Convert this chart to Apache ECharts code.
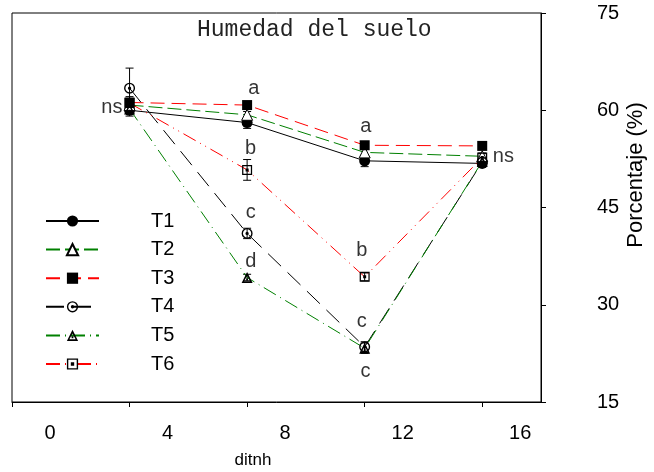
<!DOCTYPE html>
<html>
<head>
<meta charset="utf-8">
<script src="https://cdn.jsdelivr.net/npm/echarts@6/dist/echarts.min.js"></script>
<style>
html,body{margin:0;padding:0;background:#fff}
#chart{width:654px;height:472px}
</style>
</head>
<body>
<div id="chart"></div>
<script>
// days after treatment
const days = [4, 8, 12, 16]
const names = ['T1', 'T2', 'T3', 'T4', 'T5', 'T6']

// soil moisture (%)
const t1 = [60.0, 58.1, 52.2, 51.8]
const t2 = [60.8, 59.3, 53.5, 52.9]
const t3 = [61.2, 60.8, 54.6, 54.5]
const t4 = [63.4, 41.0, 23.5, 52.0]
const t5 = [60.2, 34.2, 23.3, 52.1]
const t6 = [61.1, 50.8, 34.3, 52.7]

// standard errors
const e1 = [0.9, 0.9, 0.9, 0.6]
const e2 = [0.5, 0.5, 0.5, 0.5]
const e3 = [0.5, 0.4, 0.4, 0.4]
const e4 = [3.1, 0.8, 0.8, 0.5]
const e5 = [0.6, 0.5, 0.8, 0.5]
const e6 = [1.0, 1.6, 0.6, 0.6]

// significance letters [x, y, text]
const letters = [
  [3.40, 60.5, 'ns'], [8.23, 63.4, 'a'], [8.12, 54.1, 'b'], [8.12, 44.3, 'c'],
  [8.13, 36.6, 'd'], [12.04, 57.45, 'a'], [11.9, 38.4, 'b'], [11.9, 27.4, 'c'],
  [12.03, 19.65, 'c'], [16.72, 52.8, 'ns']
]

const sans = 'Liberation Sans, Arial, sans-serif'
const red = '#ff0000'
const green = '#008000'

// marker shapes
const ringDot = 'path://M0,-10 A10,10 0 1,1 0,10 A10,10 0 1,1 0,-10 Z M0,-7.5 A7.5,7.5 0 1,0 0,7.5 A7.5,7.5 0 1,0 0,-7.5 Z M0,-3 A3,3 0 1,1 0,3 A3,3 0 1,1 0,-3 Z'
const triDot = 'path://M0,-10 L10,8 L-10,8 Z M0,-4 L-5.5,5 L5.5,5 Z M-1.6,0.5 L1.6,0.5 L1.6,3.5 L-1.6,3.5 Z'
const sqDot = 'path://M-10,-10 L10,-10 L10,10 L-10,10 Z M-7.5,-7.5 L-7.5,7.5 L7.5,7.5 L7.5,-7.5 Z M-3,-3 L3,-3 L3,3 L-3,3 Z'

const lineSeries = (name, vals, color, dash, symbol, size, fill) => ({
  name: name,
  type: 'line',
  data: days.map((d, i) => [d, vals[i]]),
  symbol: symbol,
  symbolSize: size,
  showAllSymbol: true,
  lineStyle: {color: color, width: 1, type: dash},
  itemStyle: {color: fill, borderColor: '#000', borderWidth: fill === '#fff' ? 1 : 0},
  z: 3
})

const errSeries = (vals, errs) => ({
  type: 'custom',
  data: days.map((d, i) => [d, vals[i] - errs[i], vals[i] + errs[i]]),
  renderItem: (params, api) => {
    const a = api.coord([api.value(0), api.value(2)])
    const b = api.coord([api.value(0), api.value(1)])
    const st = {stroke: '#000', lineWidth: 1}
    return {type: 'group', children: [
      {type: 'line', shape: {x1: a[0], y1: a[1], x2: b[0], y2: b[1]}, style: st},
      {type: 'line', shape: {x1: a[0] - 4, y1: a[1], x2: a[0] + 4, y2: a[1]}, style: st},
      {type: 'line', shape: {x1: b[0] - 4, y1: b[1], x2: b[0] + 4, y2: b[1]}, style: st}
    ]}
  },
  z: 2
})

const chart = echarts.init(document.getElementById('chart'))
chart.setOption({
  animation: false,
  backgroundColor: '#fff',
  grid: {left: 12, top: 13, right: 113, bottom: 70, show: true, borderColor: '#000', borderWidth: 1},
  graphic: [
    {type: 'text', left: 197, top: 18, style: {text: 'Humedad del suelo', font: '23px "Liberation Mono", "Courier New", monospace', fill: '#222'}},
    {type: 'text', x: 253, y: 460, style: {text: 'ditnh', font: '17px ' + sans, fill: '#000', align: 'center', verticalAlign: 'middle'}},
    {type: 'text', x: 636, y: 175, rotation: Math.PI / 2, style: {text: 'Porcentaje (%)', font: '22px ' + sans, fill: '#000', align: 'center', verticalAlign: 'middle'}}
  ],
  legend: {
    data: names,
    orient: 'vertical',
    left: 45,
    top: 211,
    padding: 0,
    itemWidth: 53,
    itemHeight: 14,
    itemGap: 8.6,
    textStyle: {fontFamily: sans, fontSize: 20, lineHeight: 20, color: '#000', padding: [0, 0, 0, 47]}
  },
  xAxis: {
    type: 'value', min: 0, max: 18, interval: 4,
    axisLine: {show: true, onZero: false, lineStyle: {color: '#000', width: 1}},
    axisTick: {show: true, length: 5, lineStyle: {color: '#000'}},
    axisLabel: {showMaxLabel: false, fontFamily: sans, fontSize: 20, color: '#000', margin: 21, padding: [0, 0, 0, 76]},
    splitLine: {show: false}
  },
  yAxis: {
    type: 'value', position: 'right', min: 15, max: 75, interval: 15,
    axisLine: {show: true, onZero: false, lineStyle: {color: '#000', width: 1}},
    axisTick: {show: true, length: 5, lineStyle: {color: '#000'}},
    axisLabel: {fontFamily: sans, fontSize: 20, color: '#000', margin: 56},
    splitLine: {show: false}
  },
  series: [
    errSeries(t1, e1), errSeries(t2, e2), errSeries(t3, e3),
    errSeries(t4, e4), errSeries(t5, e5), errSeries(t6, e6),
    lineSeries('T1', t1, '#000', 'solid', 'circle', 11, '#000'),
    lineSeries('T2', t2, green, [14, 5], 'triangle', 11, '#fff'),
    lineSeries('T3', t3, red, [14, 7], 'rect', 10, '#000'),
    lineSeries('T4', t4, '#000', [18, 9], ringDot, 11, '#000'),
    lineSeries('T5', t5, green, [14, 5, 1, 5], triDot, 11, '#000'),
    lineSeries('T6', t6, red, [14, 5, 1, 5, 1, 5], sqDot, 10, '#000'),
    {
      type: 'scatter',
      data: letters,
      symbolSize: 0,
      silent: true,
      label: {show: true, position: 'inside', formatter: p => p.value[2], fontFamily: sans, fontSize: 20, color: '#000'},
      z: 5
    }
  ]
})
</script>
</body>
</html>
